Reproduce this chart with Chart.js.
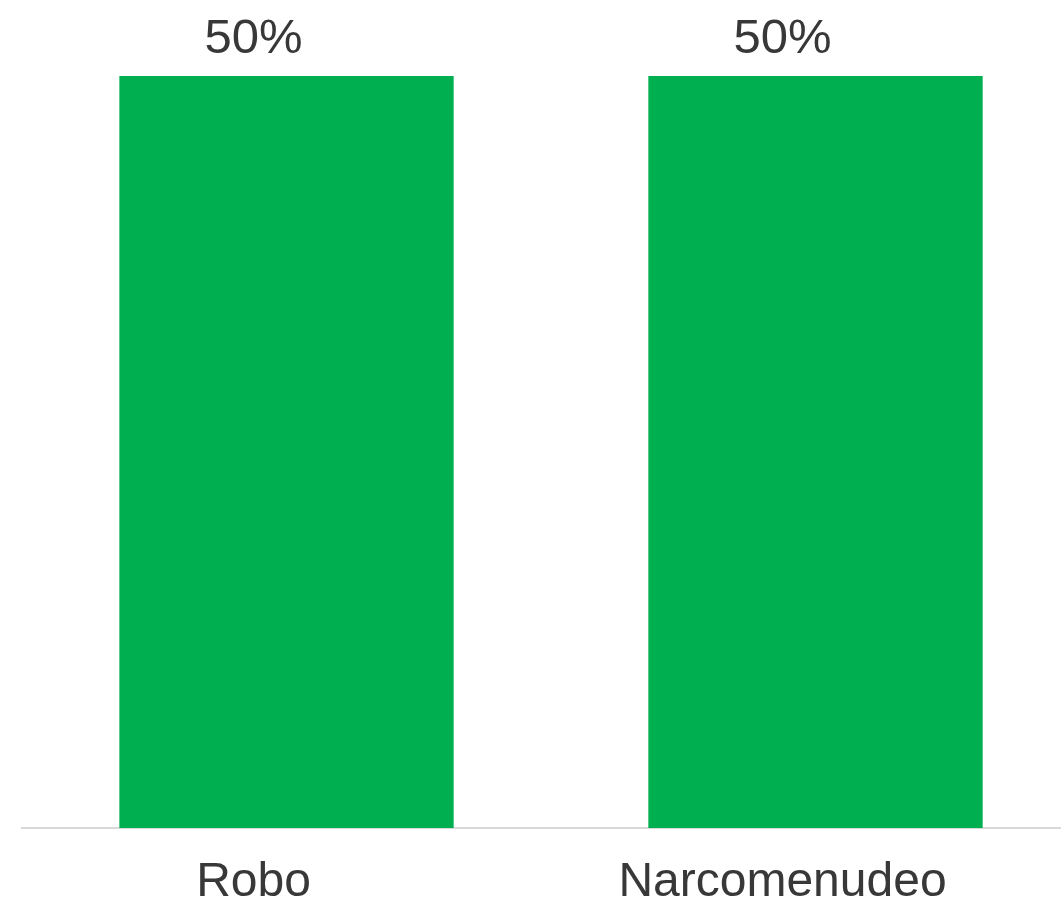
<!DOCTYPE html>
<html>
<head>
<meta charset="utf-8">
<script src="https://cdn.jsdelivr.net/npm/chart.js@4/dist/chart.umd.min.js"></script>
<style>
  html, body { margin: 0; padding: 0; background: #fff; overflow: hidden; }
  #wrap { width: 1080px; height: 942px; }
</style>
</head>
<body>
<div id="wrap"><canvas id="grafico"></canvas></div>
<script>
const categorias = ["Robo", "Narcomenudeo"];
const porcentajes = [50, 50];
const etiquetas = ["50%", "50%"];

// etiquetas encima de las barras (van un poco a la izquierda, como en el original)
const etiquetasBarras = {
  id: 'etiquetasBarras',
  afterDatasetsDraw(chart) {
    const ctx = chart.ctx;
    const meta = chart.getDatasetMeta(0);
    ctx.save();
    ctx.font = '49px "Liberation Sans", Arial, sans-serif';
    ctx.fillStyle = '#383838';
    ctx.textAlign = 'center';
    ctx.textBaseline = 'alphabetic';
    meta.data.forEach((bar, i) => {
      ctx.fillText(etiquetas[i], bar.x - 33, bar.y - 23);
    });
    ctx.restore();
  }
};

const ctx = document.getElementById('grafico').getContext('2d');
new Chart(ctx, {
  type: 'bar',
  data: {
    labels: categorias,
    datasets: [{
      data: porcentajes,
      backgroundColor: '#00AF50',
      categoryPercentage: 1,
      barPercentage: 0.632
    }]
  },
  options: {
    responsive: true,
    maintainAspectRatio: false,
    animation: false,
    layout: { padding: { top: 76, left: 22, right: 0, bottom: 4 } },
    plugins: { legend: { display: false }, tooltip: { enabled: false } },
    scales: {
      x: {
        grid: { display: false, drawTicks: false },
        border: { display: true, color: '#d9d9d9', width: 2 },
        ticks: {
          color: '#383838',
          font: { family: '"Liberation Sans", Arial, sans-serif', size: 48, lineHeight: 1 },
          padding: 31,
          labelOffset: -33,
          maxRotation: 0
        }
      },
      y: {
        display: false,
        min: 0,
        max: 50
      }
    }
  },
  plugins: [etiquetasBarras]
});
</script>
</body>
</html>
